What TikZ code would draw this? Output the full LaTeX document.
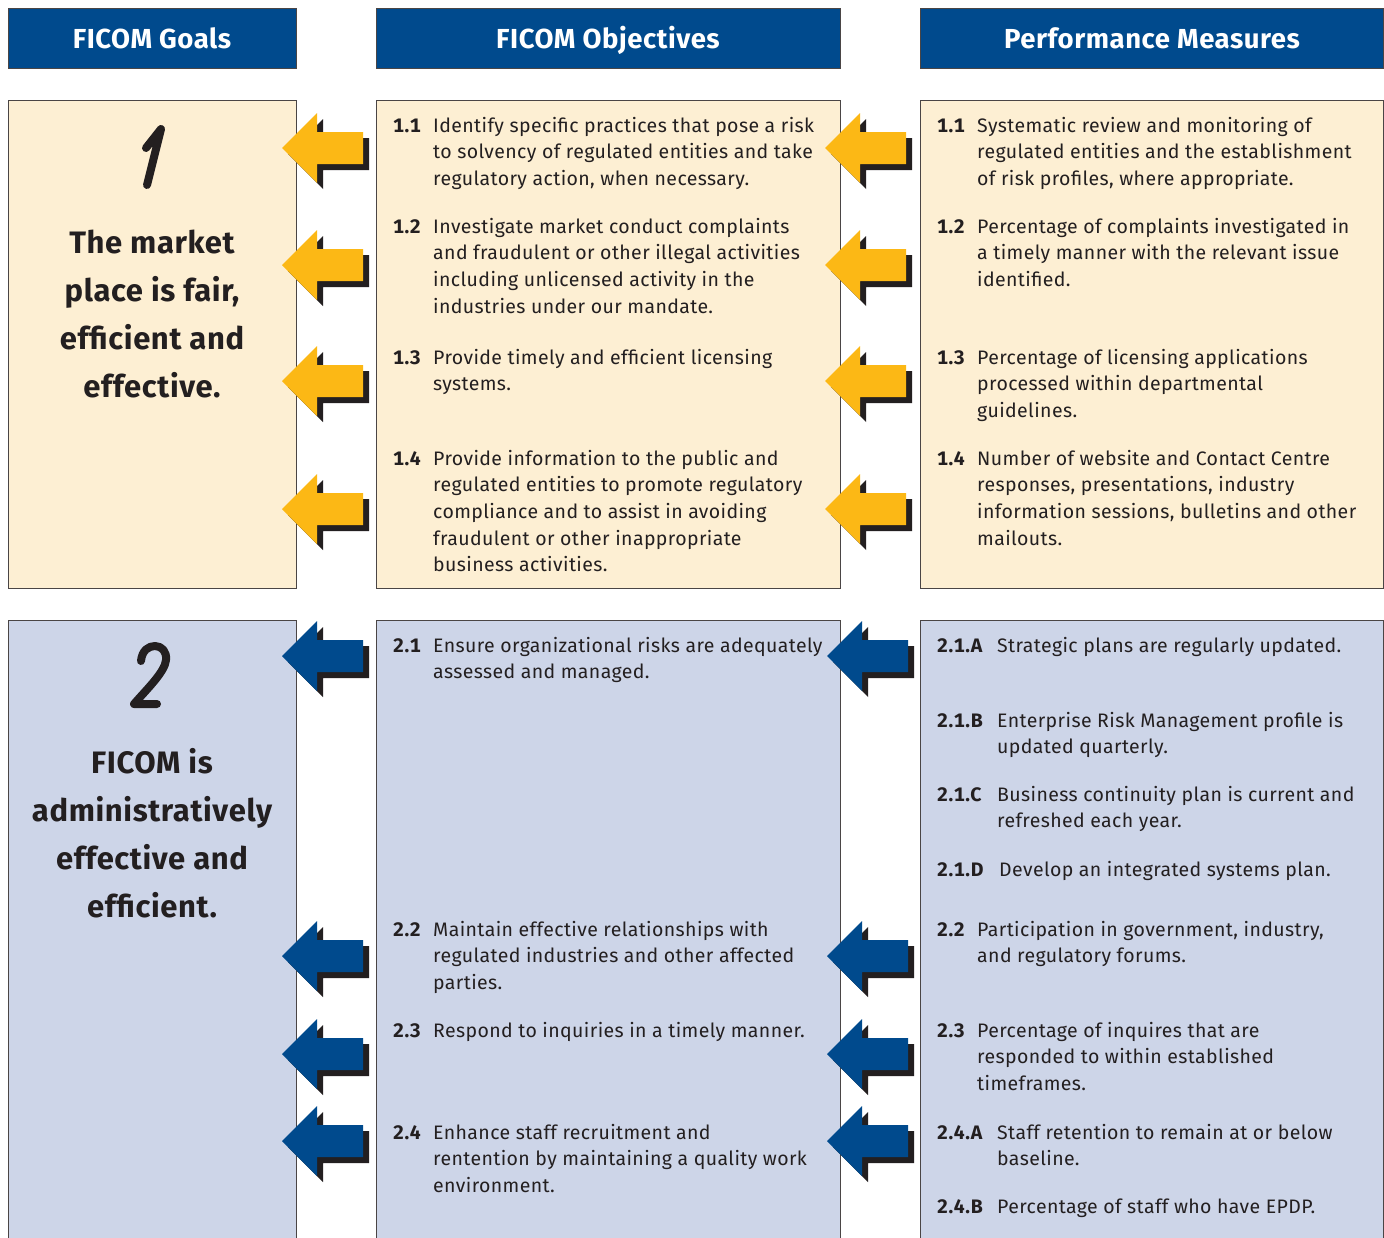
\documentclass[tikz,border=0pt]{standalone}
\usepackage{fontspec}
\setmainfont{Fira Sans}[LetterSpace=2]
\newfontfamily\tagfont{Fira Sans}[Numbers=Monospaced, LetterSpace=3]
\definecolor{ink}{HTML}{231F20}
\definecolor{navy}{HTML}{004A8D}
\definecolor{cream}{HTML}{FDEFD3}
\definecolor{lavender}{HTML}{CDD5E8}
\definecolor{amber}{HTML}{FCB815}
\definecolor{frame}{HTML}{4A4545}
\newcommand\bodysize{\fontsize{19.5}{26.7}\selectfont}
% stacked lines whose reference point is the first baseline
\newcommand\leftlines[1]{\begin{tabular}[t]{@{}l@{}}#1\end{tabular}}
\newcommand\midlines[1]{\begin{tabular}[t]{@{}c@{}}#1\end{tabular}}
\newcommand\flagarrow[3]{% tip x, centre y, fill colour
  \fill[ink] ({#1+6},{#2+6}) -- ++(35,-35) -- ++(0,19) -- ++(46,0) -- ++(0,32) -- ++(-46,0) -- ++(0,19) -- cycle;
  \fill[#3] (#1,#2) -- ++(35,-35) -- ++(0,19) -- ++(46,0) -- ++(0,32) -- ++(-46,0) -- ++(0,19) -- cycle;}
\begin{document}
\begin{tikzpicture}[x=1pt,y=-1pt,
  header/.style={draw=frame, line width=1.2pt, fill=navy, anchor=north west, minimum height=60pt, inner sep=0pt},
  headtext/.style={text=white, font=\fontsize{27.5}{30}\selectfont\bfseries, anchor=base, inner sep=0pt},
  panel/.style={draw=frame, line width=1.2pt, anchor=north west, inner sep=0pt},
  body/.style={text=ink, font=\bodysize, anchor=base west, inner sep=0pt},
  tag/.style={body, font=\bodysize\tagfont\bfseries},
  goaltext/.style={text=ink, font=\fontsize{31}{48}\selectfont\bfseries, anchor=base, inner sep=0pt},
  numeral/.style={draw=ink, line width=8pt, line cap=round, line join=round}]
\useasboundingbox (0,0) rectangle (1384,1237);
\clip (0,0) rectangle (1384,1237);
\fill[white] (0,0) rectangle (1384,1237);

% column headers
\node[header, minimum width=288pt] (hgoal) at (8,8) {};
\node[header, minimum width=464pt] (hobj) at (376,8) {};
\node[header, minimum width=463pt] (hmeas) at (920,8) {};
\node[headtext] (tgoal) at (152,48) {FICOM Goals};
\node[headtext] (tobj) at (608,48) {FICOM Objectives};
\node[headtext] (tmeas) at (1152,48) {Performance Measures};

% goal 1 panels
\node[panel, fill=cream, minimum width=288pt, minimum height=488pt] (g1) at (8,100) {};
\node[panel, fill=cream, minimum width=464pt, minimum height=488pt] (o1) at (376,100) {};
\node[panel, fill=cream, minimum width=463pt, minimum height=488pt] (m1) at (920,100) {};

% goal 2 panels
\node[panel, fill=lavender, minimum width=288pt, minimum height=660pt] (g2) at (8,620) {};
\node[panel, fill=lavender, minimum width=464pt, minimum height=660pt] (o2) at (376,620) {};
\node[panel, fill=lavender, minimum width=463pt, minimum height=660pt] (m2) at (920,620) {};

% goal numerals
\draw[numeral] (146,148) -- (161,129) -- (147,185);
\draw[numeral] (141,661) .. controls (142,650) and (149,646) .. (155,646)
  .. controls (162,646) and (167,652) .. (166,660)
  .. controls (165,672) and (146,690) .. (134,704) -- (157,704);

% goal statements
\node[goaltext] (g1t) at (152,253) {\midlines{The market\\place is fair,\\efficient and\\effective.}};
\node[goaltext] (g2t) at (152,773) {\midlines{FICOM is\\administratively\\effective and\\efficient.}};

% objectives, goal 1
\node[tag] (o11n) at (393,132) {1.1};
\node[body] (o11) at (433,132) {\leftlines{Identify specific practices that pose a risk\\to solvency of regulated entities and take\\regulatory action, when necessary.}};
\node[tag] (o12n) at (393,233) {1.2};
\node[body] (o12) at (433,233) {\leftlines{Investigate market conduct complaints\\and fraudulent or other illegal activities\\including unlicensed activity in the\\industries under our mandate.}};
\node[tag] (o13n) at (393,364) {1.3};
\node[body] (o13) at (433,364) {\leftlines{Provide timely and efficient licensing\\systems.}};
\node[tag] (o14n) at (393,465) {1.4};
\node[body] (o14) at (433,465) {\leftlines{Provide information to the public and\\regulated entities to promote regulatory\\compliance and to assist in avoiding\\fraudulent or other inappropriate\\business activities.}};

% objectives, goal 2
\node[tag] (o21n) at (393,652) {2.1};
\node[body] (o21) at (433,652) {\leftlines{Ensure organizational risks are adequately\\assessed and managed.}};
\node[tag] (o22n) at (393,936) {2.2};
\node[body] (o22) at (433,936) {\leftlines{Maintain effective relationships with\\regulated industries and other affected\\parties.}};
\node[tag] (o23n) at (393,1037) {2.3};
\node[body] (o23) at (433,1037) {Respond to inquiries in a timely manner.};
\node[tag] (o24n) at (393,1139) {2.4};
\node[body] (o24) at (433,1139) {\leftlines{Enhance staff recruitment and\\rentention by maintaining a quality work\\environment.}};

% measures, goal 1
\node[tag] (m11n) at (937,132) {1.1};
\node[body] (m11) at (977,132) {\leftlines{Systematic review and monitoring of\\regulated entities and the establishment\\of risk profiles, where appropriate.}};
\node[tag] (m12n) at (937,233) {1.2};
\node[body] (m12) at (977,233) {\leftlines{Percentage of complaints investigated in\\a timely manner with the relevant issue\\identified.}};
\node[tag] (m13n) at (937,364) {1.3};
\node[body] (m13) at (977,364) {\leftlines{Percentage of licensing applications\\processed within departmental\\guidelines.}};
\node[tag] (m14n) at (937,465) {1.4};
\node[body] (m14) at (977,465) {\leftlines{Number of website and Contact Centre\\responses, presentations, industry\\information sessions, bulletins and other\\mailouts.}};

% measures, goal 2
\node[tag] (m21an) at (937,652) {2.1.A};
\node[body] (m21a) at (997,652) {Strategic plans are regularly updated.};
\node[tag] (m21bn) at (937,727) {2.1.B};
\node[body] (m21b) at (997,727) {\leftlines{Enterprise Risk Management profile is\\updated quarterly.}};
\node[tag] (m21cn) at (937,801) {2.1.C};
\node[body] (m21c) at (997,801) {\leftlines{Business continuity plan is current and\\refreshed each year.}};
\node[tag] (m21dn) at (937,876) {2.1.D};
\node[body] (m21d) at (999,876) {Develop an integrated systems plan.};
\node[tag] (m22n) at (937,936) {2.2};
\node[body] (m22) at (977,936) {\leftlines{Participation in government, industry,\\and regulatory forums.}};
\node[tag] (m23n) at (937,1037) {2.3};
\node[body] (m23) at (977,1037) {\leftlines{Percentage of inquires that are\\responded to within established\\timeframes.}};
\node[tag] (m24an) at (937,1139) {2.4.A};
\node[body] (m24a) at (997,1139) {\leftlines{Staff retention to remain at or below\\baseline.}};
\node[tag] (m24bn) at (937,1213) {2.4.B};
\node[body] (m24b) at (997,1213) {Percentage of staff who have EPDP.};

% arrows pointing back from measures to objectives and from objectives to goals
\foreach \yy in {148,265,381,509}{
  \flagarrow{282}{\yy}{amber}
  \flagarrow{825}{\yy}{amber}}
\foreach \yy in {656,956,1054,1141}{
  \flagarrow{282}{\yy}{navy}
  \flagarrow{827}{\yy}{navy}}
\end{tikzpicture}
\end{document}
